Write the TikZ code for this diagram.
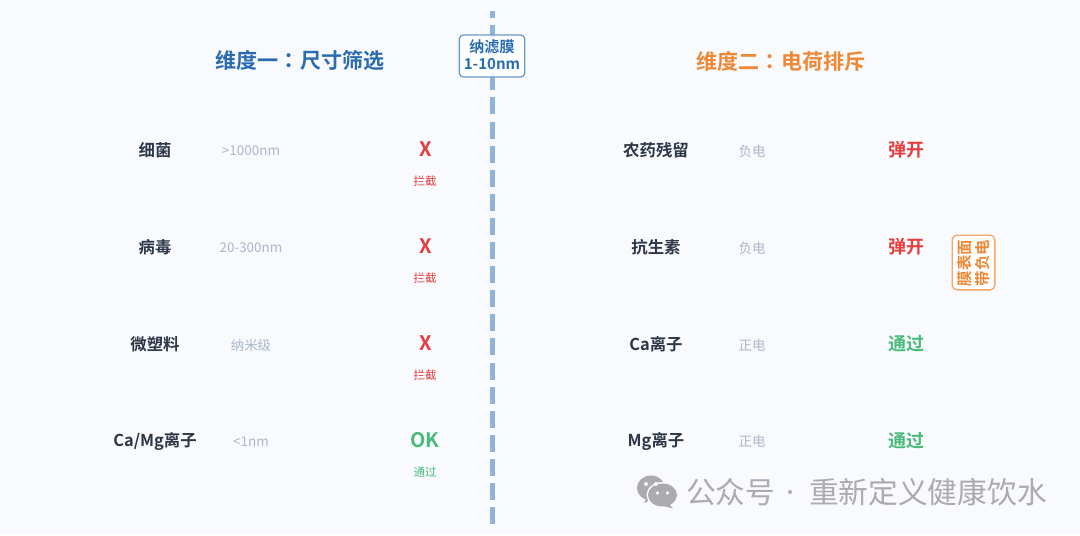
\documentclass[tikz,border=0pt]{standalone}
\usepackage{fontspec}
\setmainfont[BoldFont={Noto Sans CJK SC Bold}]{Noto Sans CJK SC}
\newfontfamily\colonfont[BoldFont={Noto Sans CJK TC Bold}]{Noto Sans CJK TC}
\definecolor{bgc}{HTML}{F8FAFE}
\definecolor{navy}{HTML}{2B6CB0}
\definecolor{memline}{HTML}{6A9BCD}
\definecolor{orangec}{HTML}{ED8936}
\definecolor{badgeline}{HTML}{F2A76B}
\definecolor{redc}{HTML}{E53E3E}
\definecolor{greenc}{HTML}{48BB78}
\definecolor{darkc}{HTML}{2D3748}
\definecolor{grayc}{HTML}{ABB7C8}
\definecolor{dashc}{HTML}{8FB4DC}
\definecolor{wmc}{HTML}{ABABAD}
\tikzset{
 x=0.75pt,y=-0.75pt,
 txt/.style={inner sep=0pt,outer sep=0pt,anchor=center,align=center},
 headtxt/.style={txt,font=\fontsize{15.8}{18}\selectfont\bfseries},
 itemtxt/.style={txt,font=\fontsize{12.3}{14}\selectfont\bfseries,text=darkc},
 subtxt/.style={txt,font=\fontsize{10.1}{12}\selectfont,text=grayc},
 marktxt/.style={txt,font=\fontsize{15}{18}\selectfont\bfseries},
 restxt/.style={txt,font=\fontsize{13.5}{16}\selectfont\bfseries},
 smalltxt/.style={txt,font=\fontsize{8.6}{10}\selectfont},
 wmtxt/.style={txt,text=wmc,font=\fontsize{22.3}{26}\selectfont},
}
\begin{document}
\begin{tikzpicture}
\useasboundingbox (0,0) rectangle (1080,535);
\fill[bgc] (0,0) rectangle (1080,535);
\coordinate (top) at (492.3,11);
\coordinate (bot) at (492.3,524);
\draw[dashc,line width=3.75pt,dash pattern=on 12.75pt off 5.33pt,dash phase=7.5pt] (top) -- (bot);
\node[headtxt,text=navy] (t1) at (300,61) {维度一{\colonfont ：}尺寸筛选};
\node[headtxt,text=orangec] (t2) at (781,61) {维度二{\colonfont ：}电荷排斥};
\node[draw=memline,line width=1pt,rounded corners=3pt,fill=white,fill opacity=0.85,draw opacity=1,text opacity=1,minimum width=49pt,minimum height=31.5pt,inner sep=0pt] (mem) at (492,56) {};
\node[txt,text=navy,font=\fontsize{11.3}{13}\selectfont\bfseries] (memt) at (492,55) {纳滤膜\\1-10nm};

\node[itemtxt] (a1) at (155,150) {细菌};
\node[itemtxt] (a2) at (155,247) {病毒};
\node[itemtxt] (a3) at (155,344) {微塑料};
\node[itemtxt] (a4) at (155,441.5) {Ca/Mg离子};
\node[subtxt] (s1) at (251,151) {>1000nm};
\node[subtxt] (s2) at (251,248) {20-300nm};
\node[subtxt] (s3) at (251,345) {纳米级};
\node[subtxt] (s4) at (251,441.5) {<1nm};
\node[marktxt,text=redc] (m1) at (425.5,149) {X};
\node[marktxt,text=redc] (m2) at (425.5,246) {X};
\node[marktxt,text=redc] (m3) at (425.5,343) {X};
\node[marktxt,text=greenc] (m4) at (425,440) {OK};
\node[smalltxt,text=redc] (n1) at (425,181) {拦截};
\node[smalltxt,text=redc] (n2) at (425,278) {拦截};
\node[smalltxt,text=redc] (n3) at (425,375) {拦截};
\node[smalltxt,text=greenc] (n4) at (425,472) {通过};

\node[itemtxt] (b1) at (656,150) {农药残留};
\node[itemtxt] (b2) at (656,247) {抗生素};
\node[itemtxt] (b3) at (656,344) {Ca离子};
\node[itemtxt] (b4) at (656,441) {Mg离子};
\node[subtxt] (c1) at (752,151) {负电};
\node[subtxt] (c2) at (752,248.5) {负电};
\node[subtxt] (c3) at (752,345) {正电};
\node[subtxt] (c4) at (752,441.5) {正电};
\node[restxt,text=redc] (r1) at (906,150) {弹开};
\node[restxt,text=redc] (r2) at (906,247) {弹开};
\node[restxt,text=greenc] (r3) at (906,344) {通过};
\node[restxt,text=greenc] (r4) at (906,441) {通过};

\node[draw=badgeline,line width=1pt,rounded corners=3.5pt,fill=white,minimum width=32pt,minimum height=41pt,inner sep=0pt] (badge) at (973.5,262.5) {};
\node[rotate=90,txt,text=orangec,font=\fontsize{11.6}{14}\selectfont\bfseries] (bt) at (973.5,263) {膜表面\\带负电};

% watermark
\fill[wmc] (651,488) ellipse [x radius=14,y radius=12.5];
\fill[wmc] (647,497) -- (644,503) -- (652,499) -- cycle;
\fill[bgc] (662.5,495) ellipse [x radius=16,y radius=13];
\fill[wmc] (662.5,495) ellipse [x radius=14.5,y radius=11.5];
\fill[wmc] (668,503) -- (673,508.5) -- (660,505) -- cycle;
\fill[bgc] (646,484) circle (2) (656,484) circle (2) (657.5,493) circle (1.8) (667.5,493) circle (1.8);
\node[wmtxt,anchor=west] (wm) at (686,492) {公众号};
\fill[wmc] (790,492) circle (2);
\node[wmtxt,anchor=west] (wm2) at (809,492) {重新定义健康饮水};
\end{tikzpicture}
\end{document}
